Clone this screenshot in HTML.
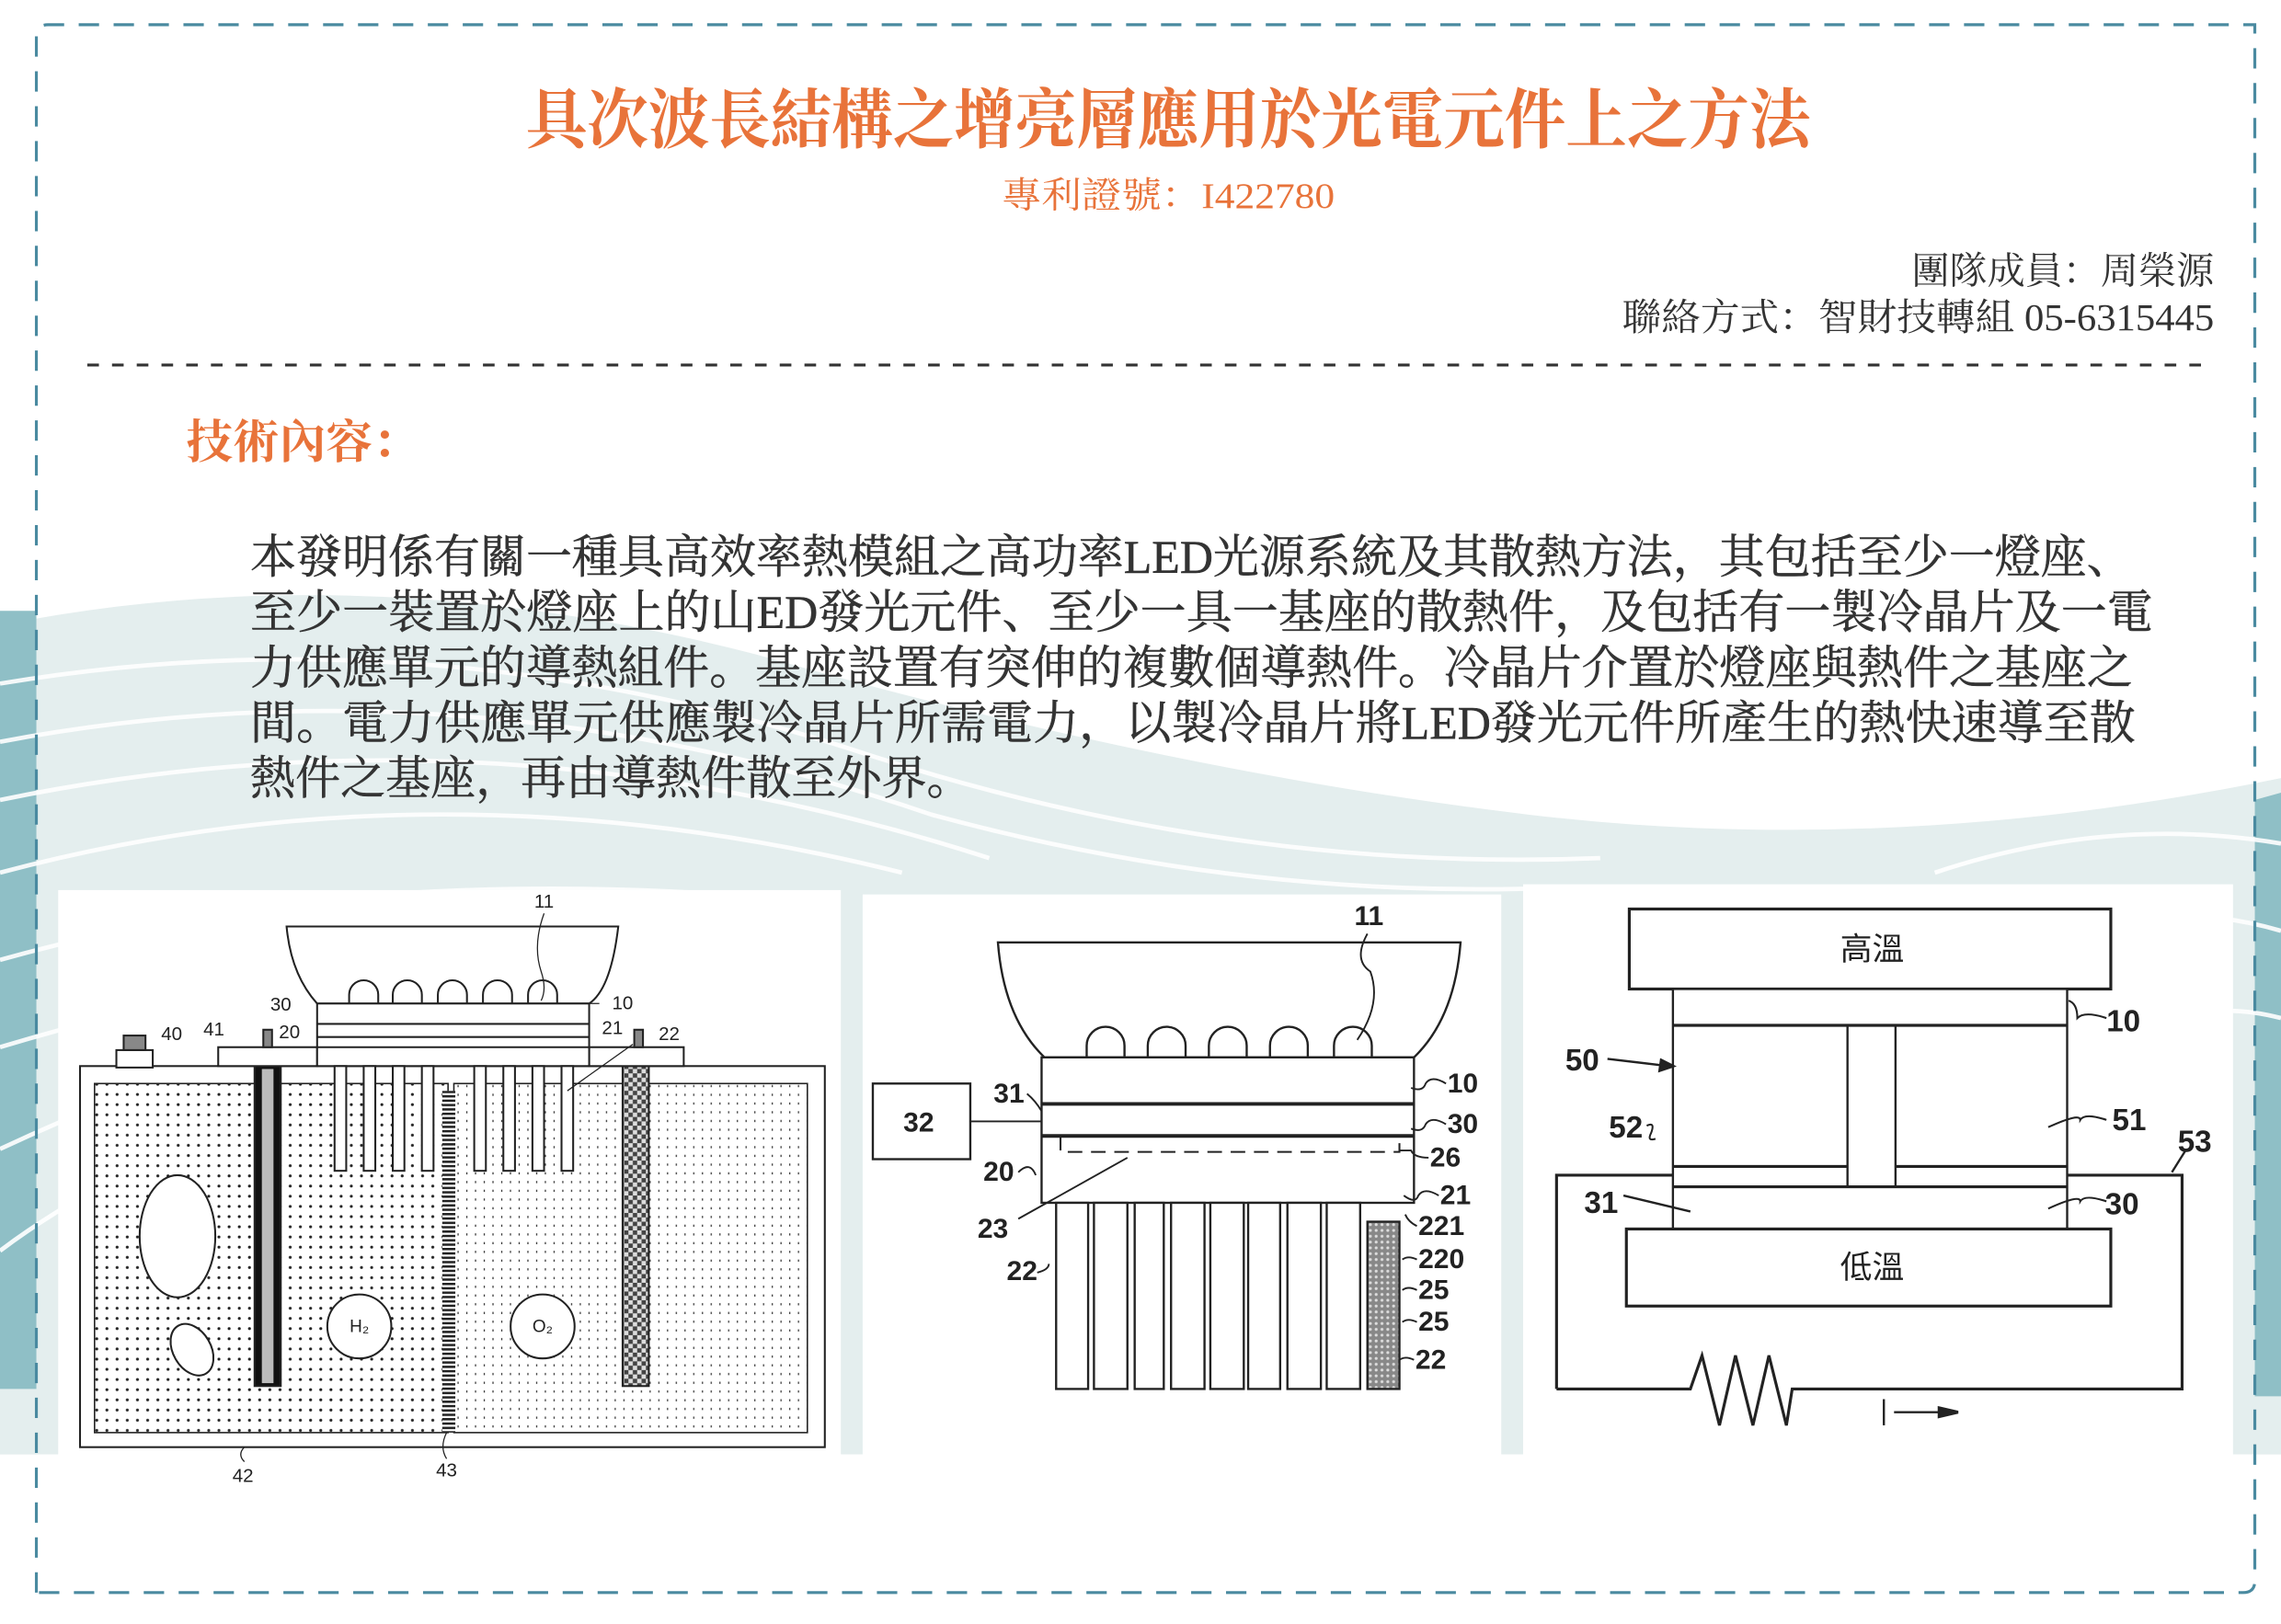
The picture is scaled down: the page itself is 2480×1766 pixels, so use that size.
<!DOCTYPE html>
<html><head><meta charset="utf-8"><style>
html,body{margin:0;padding:0;background:#fff;width:2480px;height:1766px;overflow:hidden}
svg{display:block}
.s{font-family:"Liberation Serif","Noto Serif CJK SC",serif}
.a{font-family:"Liberation Sans","Noto Sans CJK TC",sans-serif}
</style></head><body>
<svg width="2480" height="1766" viewBox="0 0 1568 1116.6" preserveAspectRatio="none" xmlns="http://www.w3.org/2000/svg">
<defs>
<pattern id="d1" width="7" height="7" patternUnits="userSpaceOnUse"><rect width="7" height="7" fill="#fff"/><circle cx="3.5" cy="3.5" r="1" fill="#222"/></pattern>
<pattern id="d2" width="6" height="6" patternUnits="userSpaceOnUse"><rect width="6" height="6" fill="#fff"/><rect x="2.5" y="2" width="0.8" height="1.5" fill="#333"/></pattern>
<pattern id="hs" width="6" height="3" patternUnits="userSpaceOnUse"><rect width="6" height="3" fill="#fff"/><rect width="6" height="1.6" fill="#222"/></pattern>
<pattern id="ck" width="6" height="6" patternUnits="userSpaceOnUse"><rect width="6" height="6" fill="#444"/><rect width="3" height="3" fill="#ddd"/><rect x="3" y="3" width="3" height="3" fill="#ddd"/></pattern>
<pattern id="gd" width="4" height="4" patternUnits="userSpaceOnUse"><rect width="4" height="4" fill="#888"/><circle cx="2" cy="2" r="1" fill="#ddd"/></pattern>
</defs>
<path d="M0,430 Q250,380 520,450 Q800,530 1050,560 Q1300,590 1568,535 L1568,1000 L0,1000 Z" fill="#e4eeee"/>
<path d="M0,420 L25,420 L25,955 L0,955 Z" fill="#8fbfc6"/>
<path d="M1550,550 L1568,545 L1568,960 L1550,960 Z" fill="#8fbfc6"/>
<g fill="none" stroke="#fff" stroke-width="3" opacity="0.9">
<path d="M0,470 Q300,420 600,520 Q850,600 1100,590"/>
<path d="M0,510 Q320,450 640,560 Q860,620 1080,610"/>
<path d="M0,550 Q340,480 680,590"/>
<path d="M0,600 Q300,520 620,600"/>
<path d="M0,660 Q250,590 560,620"/>
<path d="M0,720 Q200,660 450,640"/>
<path d="M0,790 Q150,720 300,690"/>
<path d="M0,860 Q80,800 200,760"/>
<path d="M1568,580 Q1450,560 1330,600"/>
<path d="M1568,640 Q1500,620 1440,640"/>
<path d="M1568,700 Q1530,690 1500,700"/>
</g>
<rect x="40" y="612" width="538" height="420" fill="#fff"/>
<rect x="593" y="615" width="439" height="420" fill="#fff"/>
<rect x="1047" y="608" width="488" height="420" fill="#fff"/>
<rect x="25" y="1000" width="1525" height="95" fill="#fff"/>
<path d="M25,1095 L25,25 Q25,17 33,17 L1550,17 L1550,1087 Q1550,1095 1542,1095 Z" fill="none" stroke="#4a8aa0" stroke-width="2" stroke-dasharray="14,10"/>
<line x1="60" y1="251" x2="1522" y2="251" stroke="#333" stroke-width="2" stroke-dasharray="8,9"/>
<text class="s" x="803" y="98" font-size="45" font-weight="bold" fill="#e8733a" text-anchor="middle" textLength="883" lengthAdjust="spacingAndGlyphs">具次波長結構之增亮層應用於光電元件上之方法</text>
<text class="s" x="803" y="143" font-size="25" fill="#e8733a" text-anchor="middle" textLength="229" lengthAdjust="spacingAndGlyphs">專利證號：I422780</text>
<text class="s" x="1522" y="195" font-size="26" fill="#333" text-anchor="end">團隊成員：周榮源</text>
<text class="s" x="1522" y="227" font-size="26" fill="#333" text-anchor="end" textLength="407" lengthAdjust="spacingAndGlyphs">聯絡方式：智財技轉組 05-6315445</text>
<text class="s" x="128" y="315" font-size="32" font-weight="bold" fill="#e8733a">技術內容：</text>
<g class="s" font-size="32" fill="#333" stroke="#333" stroke-width="0.3">
<text x="172" y="394" textLength="1294" lengthAdjust="spacingAndGlyphs">本發明係有關一種具高效率熱模組之高功率LED光源系統及其散熱方法，其包括至少一燈座、</text>
<text x="172" y="432" textLength="1308" lengthAdjust="spacingAndGlyphs">至少一裝置於燈座上的山ED發光元件、至少一具一基座的散熱件，及包括有一製冷晶片及一電</text>
<text x="172" y="470" textLength="1294" lengthAdjust="spacingAndGlyphs">力供應單元的導熱組件。基座設置有突伸的複數個導熱件。冷晶片介置於燈座與熱件之基座之</text>
<text x="172" y="508" textLength="1296" lengthAdjust="spacingAndGlyphs">間。電力供應單元供應製冷晶片所需電力，以製冷晶片將LED發光元件所產生的熱快速導至散</text>
<text x="172" y="546" textLength="496" lengthAdjust="spacingAndGlyphs">熱件之基座，再由導熱件散至外界。</text>
</g>
<!-- Panel 1 -->
<g stroke="#222" stroke-width="1.3" fill="none">
<rect x="55" y="733" width="512" height="262" fill="#fff"/>
<rect x="65" y="745" width="243" height="240" fill="url(#d1)" stroke-width="1"/>
<rect x="312" y="745" width="243" height="240" fill="url(#d2)" stroke-width="1"/>
<rect x="304" y="750" width="9" height="235" fill="url(#hs)" stroke="none"/>
<rect x="175" y="733" width="18" height="220" fill="#111"/>
<rect x="180" y="735" width="8" height="216" fill="#bbb" stroke="none"/>
<rect x="428" y="733" width="18" height="220" fill="url(#ck)"/>
<ellipse cx="122" cy="850" rx="26" ry="42" fill="#fff"/>
<ellipse cx="132" cy="928" rx="13" ry="19" transform="rotate(-30 132 928)" fill="#fff"/>
<circle cx="247" cy="912" r="22" fill="#fff"/>
<circle cx="373" cy="912" r="22" fill="#fff"/>
<rect x="150" y="720" width="68" height="13" fill="#fff"/>
<rect x="405" y="720" width="65" height="13" fill="#fff"/>
<rect x="80" y="722" width="25" height="12" fill="#fff"/>
<rect x="85" y="712" width="15" height="10" fill="#888"/>
<rect x="181" y="708" width="6" height="12" fill="#888"/>
<rect x="436" y="708" width="6" height="12" fill="#888"/>
<path d="M197,637 L425,637 Q420,680 405,690 L218,690 Q200,670 197,637 Z" fill="#fff"/>
<path d="M240,690 v-6 a10,10 0 0 1 20,0 v6 M270,690 v-6 a10,10 0 0 1 20,0 v6 M301,690 v-6 a10,10 0 0 1 20,0 v6 M332,690 v-6 a10,10 0 0 1 20,0 v6 M363,690 v-6 a10,10 0 0 1 20,0 v6"/>
<rect x="218" y="690" width="187" height="43" fill="#fff"/>
<line x1="218" y1="704" x2="405" y2="704"/><line x1="218" y1="713" x2="405" y2="713"/><line x1="218" y1="720" x2="405" y2="720"/>
<g fill="#fff"><rect x="230" y="733" width="8" height="72"/><rect x="250" y="733" width="8" height="72"/><rect x="270" y="733" width="8" height="72"/><rect x="290" y="733" width="8" height="72"/><rect x="326" y="733" width="8" height="72"/><rect x="346" y="733" width="8" height="72"/><rect x="366" y="733" width="8" height="72"/><rect x="386" y="733" width="8" height="72"/></g>
<path d="M374,628 Q366,650 372,668 Q376,680 372,688" stroke-width="0.8"/>
<path d="M168,995 Q163,1000 168,1005" stroke-width="0.8"/><path d="M307,985 Q302,995 307,1003" stroke-width="0.8"/>
<path d="M390,750 L435,718 M400,690 L412,690" stroke-width="0.8"/>
</g>
<g class="a" font-size="13" fill="#222" text-anchor="middle">
<text x="374" y="624">11</text><text x="193" y="695">30</text><text x="428" y="694">10</text><text x="199" y="714">20</text><text x="421" y="711">21</text><text x="460" y="715">22</text><text x="118" y="715">40</text><text x="147" y="712">41</text><text x="167" y="1019">42</text><text x="307" y="1015">43</text>
<text x="247" y="916" font-size="12">H₂</text><text x="373" y="916" font-size="12">O₂</text>
</g>
<!-- Panel 2 -->
<g stroke="#222" stroke-width="1.5" fill="none">
<path d="M686,648 L1004,648 Q1000,700 972,727 L718,727 Q690,700 686,648 Z" fill="#fff"/>
<path d="M747,727 v-8 a13,13 0 0 1 26,0 v8 M789,727 v-8 a13,13 0 0 1 26,0 v8 M831,727 v-8 a13,13 0 0 1 26,0 v8 M873,727 v-8 a13,13 0 0 1 26,0 v8 M917,727 v-8 a13,13 0 0 1 26,0 v8"/>
<rect x="716" y="727" width="256" height="100" fill="#fff"/>
<line x1="716" y1="759" x2="972" y2="759" stroke-width="2.5"/>
<line x1="716" y1="781" x2="972" y2="781" stroke-width="2.5"/>
<path d="M729,781 v11 h233 v-11" stroke-dasharray="10,6" stroke-width="1.3"/>
<rect x="600" y="745" width="67" height="52" fill="#fff"/>
<line x1="667" y1="771" x2="716" y2="771" stroke-width="1.2"/>
<g fill="#fff"><rect x="726" y="827" width="22" height="128"/><rect x="752" y="827" width="23" height="128"/><rect x="780" y="827" width="20" height="128"/><rect x="805" y="827" width="23" height="128"/><rect x="832" y="827" width="23" height="128"/><rect x="858" y="827" width="22" height="128"/><rect x="885" y="827" width="23" height="128"/><rect x="912" y="827" width="23" height="128"/></g>
<rect x="940" y="840" width="22" height="115" fill="url(#gd)"/>
<line x1="700" y1="838" x2="775" y2="796" stroke-width="1.2"/>
<path d="M940,642 Q930,660 942,668 Q950,690 933,715" stroke-width="1.2"/>
</g>
<g class="a" font-size="19" font-weight="bold" fill="#222">
<text x="931" y="636">11</text><text x="995" y="751">10</text><text x="995" y="779">30</text><text x="983" y="802">26</text><text x="990" y="828">21</text><text x="975" y="849">221</text><text x="975" y="872">220</text><text x="975" y="893">25</text><text x="975" y="915">25</text><text x="973" y="941">22</text>
<text x="683" y="758">31</text><text x="621" y="778">32</text><text x="676" y="812">20</text><text x="672" y="851">23</text><text x="692" y="880">22</text>
</g>
<g stroke="#222" stroke-width="1.2" fill="none">
<path d="M994,745 q-10,-6 -14,0 q-2,6 -10,3 M994,773 q-10,-6 -14,0 q-2,6 -10,3 M982,796 q-10,0 -12,-5 l-8,0 M989,822 q-10,-6 -14,0 q-2,6 -10,0 M974,843 q-6,-3 -8,-8 M974,866 q-6,-3 -10,0 M974,887 q-6,-3 -10,0 M974,909 q-6,-3 -10,0 M972,935 q-6,-3 -10,0 M706,752 q6,5 10,12 M700,806 q8,-8 12,2 M713,875 q8,-2 8,-6"/>
</g>
<!-- Panel 3 -->
<g stroke="#222" stroke-width="2" fill="none">
<path d="M1070,955 L1070,808 L1150,808 M1421,808 L1500,808 L1500,955 L1232,955 L1228,980 L1216,932 L1205,980 L1193,932 L1182,980 L1170,932 L1162,955 L1070,955"/>
<rect x="1120" y="625" width="331" height="55" fill="#fff"/>
<rect x="1150" y="680" width="271" height="165" fill="#fff" stroke-width="1.5"/>
<line x1="1150" y1="705" x2="1421" y2="705"/>
<line x1="1150" y1="802" x2="1270" y2="802"/><line x1="1303" y1="802" x2="1421" y2="802"/>
<line x1="1150" y1="816" x2="1421" y2="816"/>
<rect x="1270" y="705" width="33" height="111" stroke-width="1.5"/>
<rect x="1118" y="845" width="333" height="53" fill="#fff"/>
<line x1="1295" y1="962" x2="1295" y2="980" stroke-width="1.5"/>
<line x1="1302" y1="971" x2="1335" y2="971" stroke-width="1.5"/>
<path d="M1333,968 L1346,971 L1333,974 Z" fill="#222"/>
<path d="M1105,728 L1147,733" stroke-width="1.5"/><path d="M1142,729 L1150,733 L1141,736 Z" fill="#222"/>
<path d="M1116,822 L1162,833" stroke-width="1.5"/>
<path d="M1493,806 L1503,790" stroke-width="1.5"/>
<path d="M1448,700 q-15,-5 -20,0 q0,-10 -6,-12 M1448,770 q-15,-5 -18,0 q0,-5 -22,5 M1448,826 q-15,-5 -18,0 q0,-5 -22,5 M1132,774 q6,-3 3,5 q-3,6 3,4" stroke-width="1.3"/>
</g>
<g class="a" fill="#222" font-size="21" font-weight="bold">
<text x="1448" y="709">10</text><text x="1076" y="736">50</text><text x="1106" y="782">52</text><text x="1452" y="777">51</text><text x="1497" y="792">53</text><text x="1089" y="834">31</text><text x="1447" y="835">30</text>
<text x="1287" y="660" text-anchor="middle" font-size="22" font-weight="normal">高溫</text><text x="1287" y="879" text-anchor="middle" font-size="22" font-weight="normal">低溫</text>
</g>
</svg>
</body></html>
